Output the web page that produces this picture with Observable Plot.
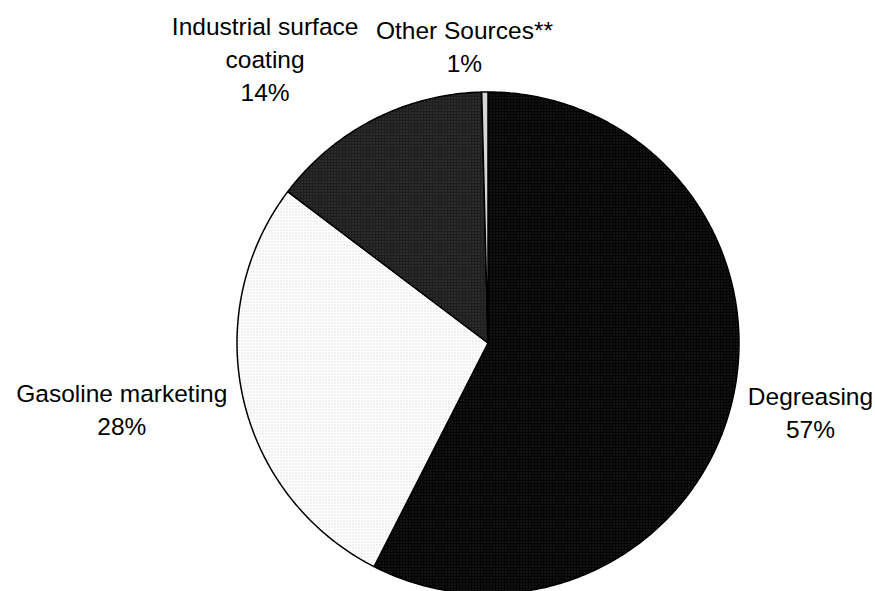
<!DOCTYPE html>
<html>
<head>
<meta charset="utf-8">
<script src="https://cdn.jsdelivr.net/npm/d3@7"></script>
<script src="https://cdn.jsdelivr.net/npm/@observablehq/plot@0.6"></script>
<style>
  html, body { margin: 0; padding: 0; background: #fff; overflow: hidden; }
</style>
</head>
<body>
<svg width="0" height="0" style="position:absolute">
  <defs>
    <pattern id="pDeg" width="3" height="3" patternUnits="userSpaceOnUse">
      <rect width="3" height="3" fill="#040404"></rect>
      <rect x="1" y="1" width="1" height="1" fill="#3a3a3a"></rect>
    </pattern>
    <pattern id="pGas" width="3" height="3" patternUnits="userSpaceOnUse">
      <rect width="3" height="3" fill="#ffffff"></rect>
      <rect x="1" y="1" width="1" height="1" fill="#c4c4c4"></rect>
    </pattern>
    <pattern id="pInd" width="3" height="3" patternUnits="userSpaceOnUse">
      <rect width="3" height="3" fill="#1e1e1e"></rect>
      <rect x="1" y="1" width="1" height="1" fill="#505050"></rect>
    </pattern>
  </defs>
</svg>
<div id="chart"></div>
<script>
// ---- data ----
const categories = ["Degreasing", "Gasoline marketing", "Industrial surface coating", "Other Sources**"];
const values = [57.5, 27.8, 14.3, 0.4];
const labelNames = ["Degreasing", "Gasoline marketing", "Industrial surface\ncoating", "Other Sources**"];
const percentLabels = ["57%", "28%", "14%", "1%"];

// ---- layout / style ----
const fills = ["url(#pDeg)", "url(#pGas)", "url(#pInd)", "#d6d6d6"];
const labelRadius = [1.313, 1.482, 1.443, 1.191];   // in pie radii
const labelNudge = [-1.6, 2.85, -10.8, -3.8];       // degrees
const R = 251, CX = 487.5, CY = 342.5;

const rows = categories.map((c, i) => ({name: c, value: values[i], i}));
const arcs = d3.pie().value(d => d.value).sort(null)(rows);

const slicePts = arcs.flatMap(a => {
  const name = a.data.name;
  const n = Math.max(2, Math.ceil((a.endAngle - a.startAngle) / (Math.PI / 360)));
  const pts = [{name, x: 0, y: 0}];
  for (let k = 0; k <= n; k++) {
    const t = a.startAngle + (a.endAngle - a.startAngle) * k / n;
    pts.push({name, x: Math.sin(t), y: Math.cos(t)});
  }
  pts.push({name, x: 0, y: 0});
  return pts;
});

const labelRows = arcs.map(a => {
  const i = a.data.i;
  const mid = (a.startAngle + a.endAngle) / 2 + labelNudge[i] * Math.PI / 180;
  return {
    x: labelRadius[i] * Math.sin(mid),
    y: labelRadius[i] * Math.cos(mid),
    label: labelNames[i] + "\n" + percentLabels[i]
  };
});

const chart = Plot.plot({
  width: 875,
  height: 591,
  margin: 0,
  x: {domain: [-1, 1], range: [CX - R, CX + R], axis: null},
  y: {domain: [-1, 1], range: [CY + R, CY - R], axis: null},
  color: {domain: categories, range: fills},
  style: {background: "white"},
  marks: [
    Plot.line(slicePts, {x: "x", y: "y", z: "name", fill: "name", stroke: "black", strokeWidth: 1.5, strokeLinejoin: "round"}),
    Plot.text(labelRows, {
      x: "x", y: "y", text: "label",
      fontSize: 24.5, lineHeight: 1.35,
      fontFamily: "'Liberation Sans', Arial, sans-serif",
      fill: "black", textAnchor: "middle", lineAnchor: "middle"
    })
  ]
});
document.getElementById("chart").appendChild(chart);
</script>
</body>
</html>
